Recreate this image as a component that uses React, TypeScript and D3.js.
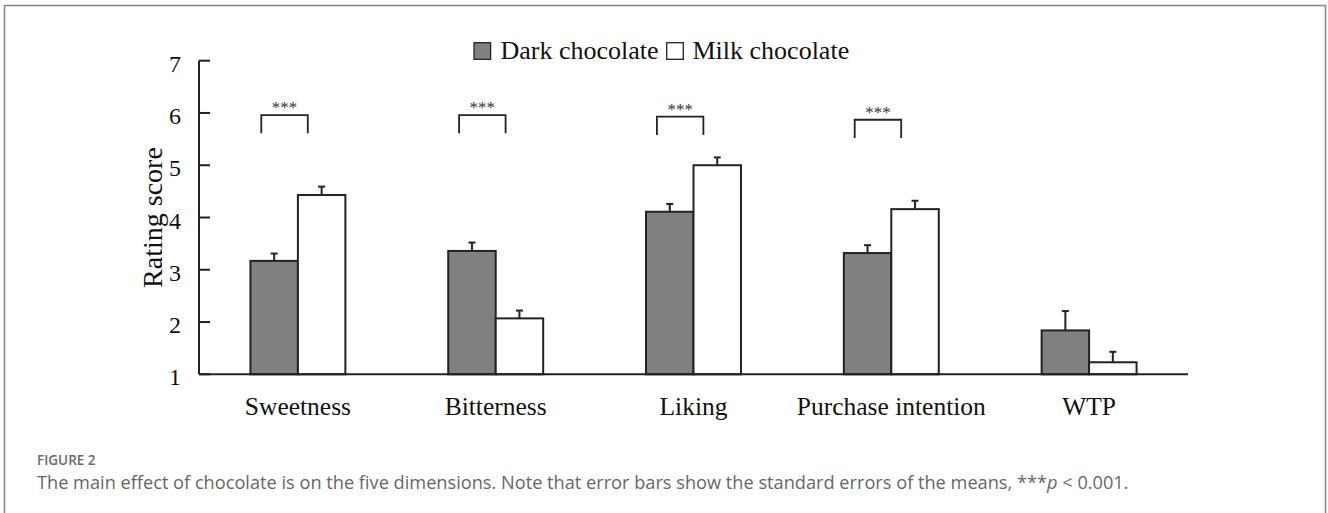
import React from "react";
import * as d3 from "d3";

const categories = ["Sweetness", "Bitterness", "Liking", "Purchase intention", "WTP"];
const darkValues = [3.17, 3.36, 4.11, 3.32, 1.84];
const darkSE = [0.14, 0.16, 0.15, 0.15, 0.37];
const milkValues = [4.43, 2.07, 5.0, 4.16, 1.23];
const milkSE = [0.16, 0.15, 0.15, 0.16, 0.2];
const bracketLevels = [5.96, 5.96, 5.93, 5.87, null];
const yTicks = [1, 2, 3, 4, 5, 6, 7];
const seriesNames = ["Dark chocolate", "Milk chocolate"];

const W = 1328;
const H = 513;
const M = { left: 199, right: 1188, top: 60.7, bottom: 374.3 };

export default function App() {
  const x = d3.scaleBand<string>().domain(categories).range([M.left, M.right]).padding(0);
  const y = d3.scaleLinear().domain([1, 7]).range([M.bottom, M.top]);
  const bw = x.bandwidth();
  const barW = bw * 0.24;
  const serif = "'Liberation Serif', 'Times New Roman', serif";
  const sans = "'Open Sans', 'Noto Sans', sans-serif";
  const legendY = 59.3;
  const legendX = 474;

  return (
    <svg width={W} height={H} style={{ position: "absolute", left: 0, top: 0, background: "#fff" }}>
      <rect x={4.5} y={5.5} width={1321} height={520} fill="none" stroke="#8c8c8c" strokeWidth={1.6} />

      {/* legend */}
      <g fontFamily={serif} fontSize={26} fill="#111">
        <rect x={legendX} y={legendY - 16.6} width={16.6} height={16.6} fill="#808080" stroke="#222" strokeWidth={1.3} />
        <text x={legendX + 26.5} y={legendY}>{seriesNames[0]}</text>
        <rect x={666.7} y={legendY - 16.6} width={16.6} height={16.6} fill="#fff" stroke="#222" strokeWidth={1.3} />
        <text x={692.5} y={legendY}>{seriesNames[1]}</text>
      </g>

      {/* y axis */}
      <line x1={M.left} x2={M.left} y1={y(7)} y2={y(1)} stroke="#222" strokeWidth={2} />
      {yTicks.map((t) => (
        <g key={t}>
          <line x1={M.left} x2={M.left + 11} y1={y(t)} y2={y(t)} stroke="#222" strokeWidth={2} />
          <text x={181} y={y(t) + 11} textAnchor="end" fontFamily={serif} fontSize={24} fill="#111">{t}</text>
        </g>
      ))}
      <text
        transform={`translate(162,${(y(1) + y(7)) / 2}) rotate(-90)`}
        textAnchor="middle"
        fontFamily={serif}
        fontSize={28}
        fill="#111"
      >
        Rating score
      </text>

      {/* bars */}
      {categories.map((c, i) => {
        const cx = (x(c) as number) + bw / 2;
        const dx = cx - barW;
        const mx = cx;
        return (
          <g key={c}>
            <rect x={dx} y={y(darkValues[i])} width={barW} height={y(1) - y(darkValues[i])} fill="#808080" stroke="#222" strokeWidth={2} />
            <rect x={mx} y={y(milkValues[i])} width={barW} height={y(1) - y(milkValues[i])} fill="#fff" stroke="#222" strokeWidth={2} />
            <line x1={dx + barW / 2} x2={dx + barW / 2} y1={y(darkValues[i])} y2={y(darkValues[i] + darkSE[i])} stroke="#222" strokeWidth={2} />
            <line x1={dx + barW / 2 - 3.5} x2={dx + barW / 2 + 3.5} y1={y(darkValues[i] + darkSE[i])} y2={y(darkValues[i] + darkSE[i])} stroke="#222" strokeWidth={2} />
            <line x1={mx + barW / 2} x2={mx + barW / 2} y1={y(milkValues[i])} y2={y(milkValues[i] + milkSE[i])} stroke="#222" strokeWidth={2} />
            <line x1={mx + barW / 2 - 3.5} x2={mx + barW / 2 + 3.5} y1={y(milkValues[i] + milkSE[i])} y2={y(milkValues[i] + milkSE[i])} stroke="#222" strokeWidth={2} />
            <text x={cx} y={415} textAnchor="middle" fontFamily={serif} fontSize={25.5} fill="#111">{c}</text>
            {bracketLevels[i] != null && (() => {
              const by = y(bracketLevels[i] as number);
              const x0 = cx - bw * 0.185;
              const x1 = cx + bw * 0.05;
              return (
                <g>
                  <path d={`M${x0},${by + 18.3}V${by}H${x1}V${by + 18.3}`} fill="none" stroke="#222" strokeWidth={1.8} />
                  <text x={(x0 + x1) / 2} y={by - 2} textAnchor="middle" fontFamily={serif} fontSize={17} fill="#333">***</text>
                </g>
              );
            })()}
          </g>
        );
      })}

      {/* x axis */}
      <line x1={M.left} x2={M.right} y1={y(1)} y2={y(1)} stroke="#222" strokeWidth={2} />

      {/* caption */}
      <text x={37} y={465} fontFamily={sans} fontSize={13.5} fontWeight={600} fill="#6a6a6a">FIGURE 2</text>
      <text x={37} y={488.5} fontFamily={sans} fontSize={18.2} fill="#666">
        The main effect of chocolate is on the five dimensions. Note that error bars show the standard errors of the means, ***
        <tspan fontStyle="italic">p</tspan> &lt; 0.001.
      </text>
    </svg>
  );
}
